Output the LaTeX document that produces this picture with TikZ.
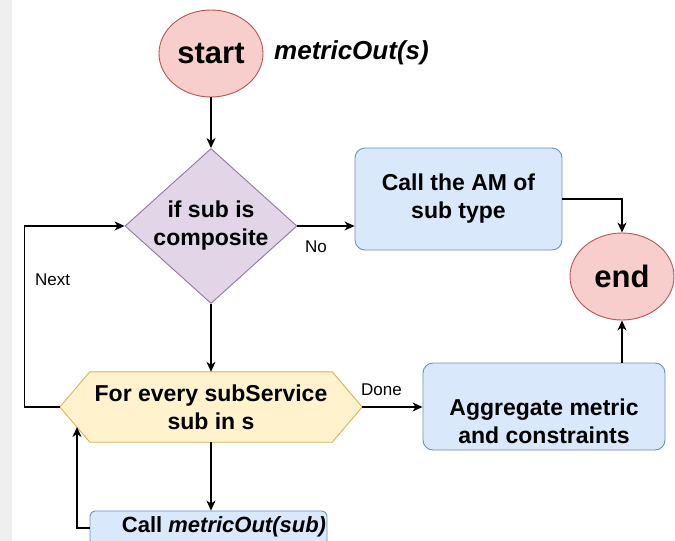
\documentclass[tikz,border=0pt]{standalone}
\usepackage{fontspec}
\setmainfont{Liberation Sans}
\definecolor{termfill}{rgb}{0.973, 0.808, 0.8}
\definecolor{termline}{rgb}{0.722, 0.329, 0.314}
\definecolor{decfill}{rgb}{0.882, 0.835, 0.906}
\definecolor{decline}{rgb}{0.588, 0.451, 0.651}
\definecolor{actfill}{rgb}{0.855, 0.91, 0.988}
\definecolor{actline}{rgb}{0.424, 0.557, 0.749}
\definecolor{hexfill}{rgb}{1.0, 0.949, 0.8}
\definecolor{hexline}{rgb}{0.839, 0.714, 0.337}
\definecolor{stripgray}{rgb}{0.937, 0.937, 0.937}
\usepackage{tikz}
\usetikzlibrary{shapes, shapes.geometric, arrows.meta, backgrounds}

\tikzset{
    terminal/.style = {ellipse, draw = termline, fill = termfill, line width = 0.9pt, minimum width = 104pt, minimum height = 87pt, inner sep = 0pt, font = \fontsize{31}{37}\selectfont\bfseries},
    decision/.style = {diamond, draw = decline, fill = decfill, line width = 0.9pt, minimum width = 172pt, minimum height = 155pt, aspect = 1.1, inner sep = 0pt, align = center, font = \fontsize{23}{28}\selectfont\bfseries},
    action/.style = {rectangle, rounded corners = 10pt, draw = actline, fill = actfill, line width = 0.9pt, inner sep = 0pt, align = center, font = \fontsize{23}{28}\selectfont\bfseries},
    loopbox/.style = {rectangle, minimum width = 302pt, minimum height = 70pt, inner sep = 0pt, align = center, font = \fontsize{23}{28}\selectfont\bfseries},
    hexshape/.style = {draw = hexline, fill = hexfill, line width = 0.9pt},
    boxtext/.style = {inner sep = 0pt, align = center, font = \fontsize{23}{28}\selectfont\bfseries},
    edgelabel/.style = {inner sep = 0pt, anchor = west, font = \fontsize{17}{20}\selectfont},
    flow/.style = {-{Stealth[length = 10pt, width = 9pt, inset = 3pt]}, line width = 1.2pt}
}

\begin{document}
\begin{tikzpicture}[x = 1pt, y = -1pt]
        \useasboundingbox (0, 0) rectangle (675, 541);
        \clip (0, 0) rectangle (675, 541);
        \fill [stripgray] (0, 0) rectangle (12, 541);

        \node (start) [terminal] at (211, 53.5) {start};
        \node (sig) [anchor = west, inner sep = 0pt, font = \fontsize{26}{31}\selectfont\bfseries\itshape] at (274, 53) {metricOut(s)};

        \node (cond) [decision] at (211, 226) {if sub is\\composite};
        \node (am) [action, minimum width = 207pt, minimum height = 102pt] at (458.5, 199) {Call the AM of\\sub type};
        \node (end) [terminal] at (622, 276.5) {end};

        \node (loop) [loopbox] at (211, 407) {For every subService\\sub in s};
        \begin{scope}[on background layer]
            \filldraw [hexshape] (loop.west) -- ([xshift = 30pt]loop.north west) -- ([xshift = -30pt]loop.north east) -- (loop.east) -- ([xshift = -30pt]loop.south east) -- ([xshift = 30pt]loop.south west) -- cycle;
        \end{scope}
        \node (agg) [action, minimum width = 242pt, minimum height = 87pt] at (544, 406.5) {};
        \node (aggtext) [boxtext] at (544, 421) {Aggregate metric\\and constraints};

        \node (call) [action, rounded corners = 5pt, minimum width = 237pt, minimum height = 34pt] at (208.5, 528) {};
        \node (calltext) [boxtext, font = \fontsize{22}{26}\selectfont\bfseries] at (224, 527) {Call \textit{metricOut(sub)}};

        \node (next) [edgelabel] at (35, 280) {Next};
        \node (no) [edgelabel] at (305, 247) {No};
        \node (done) [edgelabel] at (361, 390) {Done};

        \coordinate (backin) at (77, 427);

        \draw [flow] (start) -- (cond);
        \draw [flow] (cond.east) -- (cond.east -| am.west);
        \draw [flow] (am.east) -| (end.north);
        \draw [flow] (cond) -- (loop);
        \draw [flow] (loop.east) -- (loop.east -| agg.west);
        \draw [flow] (agg.north -| end.south) -- (end.south);
        \draw [flow] (loop.west) -- ++(-35, 0) |- (cond.west);
        \draw [flow] (loop.south) -- (loop.south |- call.north);
        \draw [flow] (call.west) -| (backin);
    \end{tikzpicture}
\end{document}
